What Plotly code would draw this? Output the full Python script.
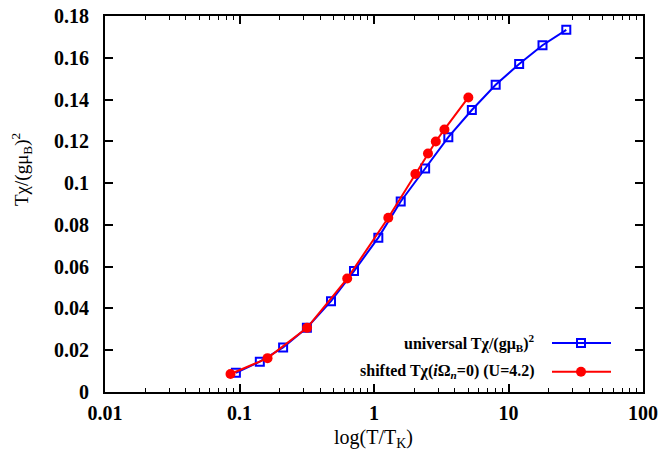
import plotly.graph_objects as go

# universal curve
univ_x = [0.094, 0.1416, 0.211, 0.317, 0.479, 0.710, 1.077, 1.58, 2.40, 3.57, 5.34, 8.03, 12.0, 17.9, 26.9]
univ_y = [0.0092, 0.0145, 0.0213, 0.0308, 0.0435, 0.0579, 0.0739, 0.0912, 0.107, 0.122, 0.135, 0.1471, 0.157, 0.166, 0.1734]

# shifted curve
shift_x = [0.0857, 0.1616, 0.318, 0.632, 1.277, 2.03, 2.52, 2.88, 3.34, 5.03]
shift_y = [0.0086, 0.0162, 0.0307, 0.0543, 0.0834, 0.1044, 0.1142, 0.1199, 0.1257, 0.141]

x_ticks = [0.01, 0.1, 1, 10, 100]
x_ticklabels = ["0.01", "0.1", "1", "10", "100"]
y_ticks = [0, 0.02, 0.04, 0.06, 0.08, 0.1, 0.12, 0.14, 0.16, 0.18]
y_ticklabels = ["0", "0.02", "0.04", "0.06", "0.08", "0.1", "0.12", "0.14", "0.16", "0.18"]

legend_labels = ["<b>universal Tχ/(gμ<sub>B</sub>)<sup>2</sup></b>",
                 "<b>shifted Tχ(<i>i</i>Ω<sub><i>n</i></sub>=0) (U=4.2)</b>"]

BLUE = "#0000ff"
RED = "#ff0000"
FONT = "Liberation Serif"

fig = go.Figure()
fig.add_trace(go.Scatter(x=univ_x, y=univ_y, mode="lines+markers",
                         line=dict(color=BLUE, width=2),
                         marker=dict(symbol="square-open", size=8, color=BLUE, line=dict(width=2, color=BLUE)),
                         showlegend=False))
fig.add_trace(go.Scatter(x=shift_x, y=shift_y, mode="lines+markers",
                         line=dict(color=RED, width=2),
                         marker=dict(symbol="circle", size=10, color=RED),
                         showlegend=False))

W, H = 659, 458
L, R, T, B = 105, 16, 16, 66
pw, ph = W - L - R, H - T - B

def px(xpix):
    return (xpix - L) / pw

def py(ypix):
    return (H - B - ypix) / ph

# custom gnuplot-style legend
rows = [(343, BLUE, "square"), (371.7, RED, "circle")]
for (yp, col, sym), lab in zip(rows, legend_labels):
    fig.add_annotation(x=px(537), y=py(yp), xref="paper", yref="paper", text=lab,
                       showarrow=False, xanchor="right", yanchor="middle",
                       font=dict(family=FONT, size=16, color="black"))
    fig.add_shape(type="line", xref="paper", yref="paper", x0=px(552), x1=px(611),
                  y0=py(yp), y1=py(yp), line=dict(color=col, width=2))
    if sym == "square":
        fig.add_shape(type="rect", xref="paper", yref="paper", xsizemode="pixel", ysizemode="pixel",
                      xanchor=px(581), yanchor=py(yp), x0=-4, x1=4, y0=-4, y1=4,
                      line=dict(color=col, width=2), fillcolor="rgba(0,0,0,0)")
    else:
        fig.add_shape(type="circle", xref="paper", yref="paper", xsizemode="pixel", ysizemode="pixel",
                      xanchor=px(581), yanchor=py(yp), x0=-5, x1=5, y0=-5, y1=5,
                      line=dict(color=col, width=0), fillcolor=col)

# axis titles
fig.add_annotation(x=px(22), y=py(170), xref="paper", yref="paper",
                   text="Tχ/(gμ<sub>B</sub>)<sup>2</sup>", textangle=-90, showarrow=False,
                   xanchor="center", yanchor="middle", font=dict(family=FONT, size=19, color="black"))
fig.add_annotation(x=px(373.5), y=py(438), xref="paper", yref="paper",
                   text="log(T/T<sub>K</sub>)", showarrow=False,
                   xanchor="center", yanchor="middle", font=dict(family=FONT, size=20, color="black"))

fig.update_xaxes(type="log", range=[-2, 2], tickvals=x_ticks,
                 ticktext=["<b>%s</b>" % t for t in x_ticklabels],
                 ticks="inside", ticklen=8, tickwidth=1.5, tickcolor="black",
                 minor=dict(ticks="inside", ticklen=4, tickwidth=1, tickcolor="black",
                            tickvals=[m * 10 ** e for e in range(-2, 2) for m in range(2, 10)]),
                 showline=True, linewidth=2, linecolor="black", mirror="allticks",
                 showgrid=False, zeroline=False, automargin=False, ticklabelstandoff=2,
                 tickfont=dict(family=FONT, size=20, color="black"))
fig.update_yaxes(range=[0, 0.18], tickvals=y_ticks,
                 ticktext=["<b>%s</b>" % t for t in y_ticklabels],
                 ticks="inside", ticklen=8, tickwidth=1.5, tickcolor="black",
                 showline=True, linewidth=2, linecolor="black", mirror="allticks",
                 showgrid=False, zeroline=False, automargin=False, ticklabelstandoff=10,
                 tickfont=dict(family=FONT, size=20, color="black"))

fig.update_layout(width=W, height=H, margin=dict(l=L, r=R, t=T, b=B),
                  plot_bgcolor="white", paper_bgcolor="white", showlegend=False)

fig.write_html("out.html")
